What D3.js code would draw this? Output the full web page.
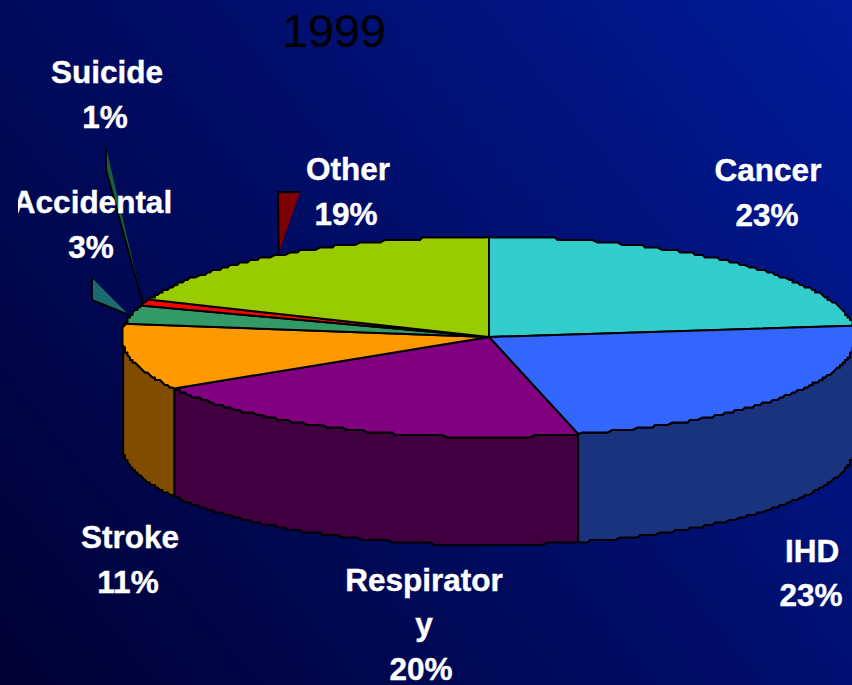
<!DOCTYPE html>
<html><head><meta charset="utf-8">
<script src="https://cdnjs.cloudflare.com/ajax/libs/d3/7.8.5/d3.min.js"></script>
<style>html,body{margin:0;padding:0;background:#000}svg{display:block}</style>
</head><body><svg id="c" width="852" height="685"></svg>
<script>
const categories = ["Cancer","IHD","Respiratory","Stroke","Accidental","Suicide","Other"];
const values = [23.2,22.9,20.3,10.7,3,1,18.9];
const topColors = ["#33cccc","#3366ff","#800080","#ff9900","#339966","#ff0000","#99cc00"];
const sideColors = ["#1a6666","#1a337f","#400040","#7f4c00","#1a4c33","#7f0000","#4c6600"];
const titleText = "1999";
const labelLines = [["Cancer","23%"],["IHD","23%"],["Respirator","y","20%"],["Stroke","11%"],["Accidental","3%"],["Suicide","1%"],["Other","19%"]];

// layout (separate from data)
const W=852,H=685,cx=489,cy=337,rx=367,ry=100,depth=108,grid=2.5;
const labelLayout = [
 {x:[768,767],y:[181,226]},
 {x:[812,811],y:[562,606]},
 {x:[424,424,421],y:[591,635,680]},
 {x:[130,128],y:[548,593]},
 {x:[92.5,91],y:[213,258]},
 {x:[107,105],y:[83,128]},
 {x:[348,346],y:[180,225]}
];
const leaders = {
 "Accidental":{outer:[92,278],elbow:[92,300],nudge:[-3,0],fill:"#1a6b70"},
 "Suicide":{outer:[106,147],elbow:[106,170],nudge:[-2,0],fill:"#1a5a40"},
 "Other":{outer:[300,192],elbow:[278,192],nudge:[-5,-1],fill:"#7f0000"}
};

const svg=d3.select("#c");
const defs=svg.append("defs");
const g=defs.append("linearGradient").attr("id","bg").attr("gradientUnits","userSpaceOnUse")
 .attr("x1",0).attr("y1",H).attr("x2",W).attr("y2",0);
g.append("stop").attr("offset",0).attr("stop-color","#000033");
g.append("stop").attr("offset",1).attr("stop-color","#001a99");
defs.append("clipPath").attr("id","clipA").append("rect").attr("x",18).attr("y",0).attr("width",W).attr("height",H);
svg.append("rect").attr("width",W).attr("height",H).attr("fill","url(#bg)");

const xS=d3.scaleLinear().domain([-1,1]).range([cx-rx,cx+rx]);
const yS=d3.scaleLinear().domain([-1,1]).range([cy-ry,cy+ry]);
const rim=(a,dz=0)=>[xS(Math.sin(a)),yS(-Math.cos(a))+dz];
// the reference's rim is a slightly stepped polyline
const snap=p=>[Math.round(p[0]/grid)*grid,Math.round(p[1]/grid)*grid];
const samples=(a0,a1)=>{const n=Math.max(2,Math.ceil((a1-a0)/0.012));return d3.range(n+1).map(i=>a0+(a1-a0)*i/n);};
const rimPts=(a0,a1,dz=0)=>{const s=samples(a0,a1);return s.map((a,i)=>(i===0||i===s.length-1)?rim(a,dz):snap(rim(a,dz)));};
const line=d3.line();
const arcs=d3.pie().sort(null).value(d=>d)(values);

// side walls (front half only)
const sideG=svg.append("g");
arcs.forEach((d,i)=>{
 const a0=Math.max(d.startAngle,Math.PI/2-0.13),a1=Math.min(d.endAngle,3*Math.PI/2-0.08);
 if(a1<=a0) return;
 const pts=rimPts(a0,a1).concat(rimPts(a0,a1,depth).reverse());
 sideG.append("path").attr("d",line(pts)+"Z").attr("fill",sideColors[i]).attr("stroke","#000").attr("stroke-width",2).attr("stroke-linejoin","round");
});

// top slices
const topG=svg.append("g");
arcs.forEach((d,i)=>{
 const pts=[[cx,cy]].concat(rimPts(d.startAngle,d.endAngle));
 topG.append("path").attr("d",line(pts)+"Z").attr("fill",topColors[i]).attr("stroke","#000").attr("stroke-width",2).attr("stroke-linejoin","round");
});

// leaders
const leadG=svg.append("g");
arcs.forEach((d,i)=>{
 const L=leaders[categories[i]]; if(!L) return;
 const m=rim((d.startAngle+d.endAngle)/2);
 const tip=[m[0]+L.nudge[0],m[1]+L.nudge[1]];
 leadG.append("path").attr("d",line([L.outer,L.elbow,tip])+"Z").attr("fill",L.fill);
 leadG.append("path").attr("d",line([L.outer,L.elbow,tip])).attr("fill","none").attr("stroke","#000").attr("stroke-width",2);
});

// title
svg.append("text").attr("x",334).attr("y",47).attr("text-anchor","middle")
 .attr("font-family","'Liberation Sans',Arial,sans-serif").attr("font-size",46.8).attr("fill","#000").text(titleText);

// labels
const labG=svg.append("g").attr("font-family","'Liberation Sans',Arial,sans-serif").attr("font-weight","bold").attr("font-size",31.5).attr("fill","#fff").attr("stroke","#fff").attr("stroke-width",0.4).attr("text-anchor","middle");
labelLines.forEach((lines,i)=>{
 const p=labelLayout[i];
 const gg=labG.append("g");
 if(categories[i]==="Accidental") gg.attr("clip-path","url(#clipA)");
 lines.forEach((t,j)=>gg.append("text").attr("x",p.x[j]).attr("y",p.y[j]).text(t));
});
</script></body></html>
